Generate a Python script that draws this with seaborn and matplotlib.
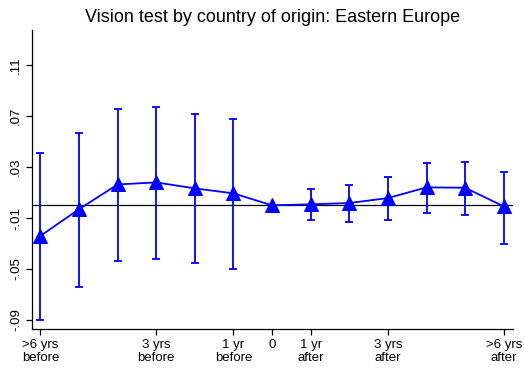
import matplotlib
matplotlib.use("Agg")
import matplotlib.pyplot as plt
import seaborn as sns
import pandas as pd
import numpy as np

# Data
periods = [-6, -5, -4, -3, -2, -1, 0, 1, 2, 3, 4, 5, 6]
estimate = [-0.024, -0.003, 0.0164, 0.018, 0.0133, 0.0094, 0.0, 0.0008, 0.0018, 0.0057, 0.0141, 0.0138, -0.0008]
ci_low = [-0.090, -0.064, -0.0437, -0.042, -0.0455, -0.050, np.nan, -0.0118, -0.0134, -0.0113, -0.0058, -0.0074, -0.030]
ci_high = [0.041, 0.057, 0.0755, 0.0773, 0.0716, 0.0676, np.nan, 0.0127, 0.0159, 0.0222, 0.0334, 0.0342, 0.026]
tick_pos = [-6, -3, -1, 0, 1, 3, 6]
tick_labels = [">6 yrs\nbefore", "3 yrs\nbefore", "1 yr\nbefore", "0", "1 yr\nafter", "3 yrs\nafter", ">6 yrs\nafter"]
ytick_vals = [-0.09, -0.05, -0.01, 0.03, 0.07, 0.11]
ytick_labels = ["-.09", "-.05", "-.01", ".03", ".07", ".11"]
title = "Vision test by country of origin: Eastern Europe"

df = pd.DataFrame({"period": periods, "estimate": estimate, "lo": ci_low, "hi": ci_high})

sns.set_style("ticks")
plt.rcParams['font.family'] = ['Liberation Sans', 'DejaVu Sans']
plt.rcParams['text.color'] = 'black'
plt.rcParams['xtick.color'] = 'black'
plt.rcParams['ytick.color'] = 'black'
plt.rcParams['axes.edgecolor'] = 'black'

fig = plt.figure(figsize=(5.24, 3.82), dpi=100)
ax = fig.add_axes([0.061, 0.139, 0.918, 0.782])

ax.axhline(0, color="black", lw=0.9, zorder=1)

ci = df.dropna()
ax.errorbar(ci["period"], (ci["lo"] + ci["hi"]) / 2,
            yerr=[(ci["hi"] - ci["lo"]) / 2, (ci["hi"] - ci["lo"]) / 2],
            fmt="none", ecolor="#0000ff", elinewidth=1.3, capsize=3, capthick=1.3, zorder=2)

sns.lineplot(data=df, x="period", y="estimate", ax=ax, color="#0000ff",
             marker="^", markersize=10, markeredgecolor="#0000ff", lw=1.3, zorder=3)

ax.set_xlim(-6.22, 6.24)
ax.set_ylim(-0.097, 0.1375)
ax.set_xticks(tick_pos)
ax.set_xticklabels(tick_labels, fontsize=9.5, linespacing=1.2, color="black")
ax.set_yticks(ytick_vals)
ax.set_yticklabels(ytick_labels, fontsize=9.5, rotation=90, va="center", color="black")
ax.set_xlabel("")
ax.set_ylabel("")
ax.set_title(title, fontsize=13, pad=6, color="black")
for s in ["top", "right"]:
    ax.spines[s].set_visible(False)
ax.spines["left"].set_linewidth(0.9)
ax.spines["bottom"].set_linewidth(0.9)
ax.tick_params(length=4, width=0.9, pad=3, colors="black")
ax.grid(False)

fig.savefig("out.png", dpi=100)
